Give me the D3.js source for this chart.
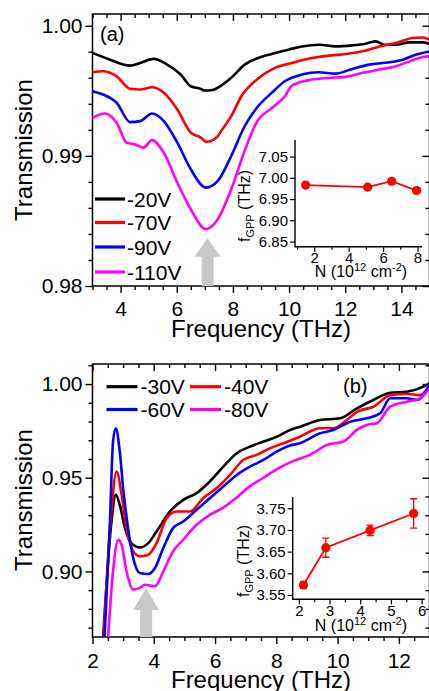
<!DOCTYPE html>
<html><head><meta charset="utf-8">
<script src="https://cdn.jsdelivr.net/npm/d3@7"></script>
<style>
body{margin:0;background:#fff}
text{font-family:"Liberation Sans",Arial,sans-serif;fill:#000}
</style></head>
<body><svg id="c" width="429" height="691"></svg>
<script>
// ---------------- DATA ----------------
// Panel (a)
const seriesA = ["-20V","-70V","-90V","-110V"];
const colorsA = ["#000000","#ff0000","#0000ff","#ff00ff"];
const a20x = [3.00,3.62,4.34,4.70,5.18,5.66,6.14,6.50,6.86,6.98,7.22,7.58,7.94,8.42,8.90,9.38,9.98,10.46,11.06,11.65,12.25,12.73,13.09,13.40,13.81,14.29,14.77,15.00];
const a20y = [0.99791,0.99739,0.99693,0.99714,0.99745,0.99701,0.99625,0.99535,0.99515,0.99502,0.99504,0.99540,0.99600,0.99701,0.99752,0.99783,0.99816,0.99841,0.99854,0.99841,0.99849,0.99862,0.99880,0.99854,0.99854,0.99872,0.99872,0.99860];
const a70x = [3.00,3.38,3.86,4.34,4.70,5.12,5.54,6.02,6.50,6.86,7.06,7.46,7.58,7.94,8.30,8.90,9.50,10.10,10.82,11.42,12.02,12.62,13.22,13.81,14.41,14.77,15.00];
const a70y = [0.99642,0.99650,0.99611,0.99515,0.99510,0.99527,0.99484,0.99356,0.99178,0.99140,0.99108,0.99152,0.99190,0.99305,0.99458,0.99595,0.99676,0.99714,0.99752,0.99770,0.99783,0.99803,0.99841,0.99867,0.99906,0.99910,0.99893];
const a90x = [3.00,3.38,3.86,4.34,4.70,5.12,5.54,6.02,6.50,7.04,7.46,7.94,8.42,8.90,9.38,9.86,10.46,11.06,11.65,12.25,12.85,13.57,14.05,14.53,15.00];
const a90y = [0.99497,0.99471,0.99408,0.99259,0.99267,0.99326,0.99267,0.99101,0.98897,0.98756,0.98807,0.98999,0.99228,0.99382,0.99484,0.99575,0.99625,0.99642,0.99632,0.99668,0.99701,0.99719,0.99739,0.99778,0.99803];
const a110x = [3.00,3.44,3.86,4.22,4.52,4.82,5.12,5.54,6.02,6.50,7.04,7.46,7.94,8.42,8.85,9.40,9.86,10.10,10.82,11.42,12.02,12.62,13.22,13.81,14.29,14.77,15.00];
const a110y = [0.99293,0.99326,0.99254,0.99101,0.99088,0.99063,0.99121,0.99024,0.98795,0.98590,0.98437,0.98513,0.98743,0.99040,0.99260,0.99370,0.99460,0.99540,0.99586,0.99599,0.99607,0.99638,0.99663,0.99688,0.99726,0.99760,0.99765];

// Panel (b)
const seriesB = ["-30V","-40V","-60V","-80V"];
const colorsB = ["#000000","#ff0000","#0000ff","#ff00ff"];
const b30x = [2.33,2.62,2.76,2.89,3.06,3.27,3.55,3.82,4.09,4.53,4.96,5.40,5.83,6.27,6.71,7.14,7.58,8.01,8.45,8.77,9.43,10.08,10.63,11.17,11.72,12.26,12.80,13.00];
const b30y = [0.860,0.9266,0.9409,0.9355,0.9231,0.9151,0.9128,0.9151,0.9213,0.9320,0.9382,0.9418,0.9480,0.9559,0.9631,0.9666,0.9693,0.9719,0.9755,0.9772,0.9808,0.9817,0.9870,0.9915,0.9954,0.9959,0.9986,1.0004];
const b40x = [2.35,2.59,2.79,2.95,3.11,3.33,3.55,3.82,4.09,4.42,4.75,5.18,5.61,6.05,6.49,6.92,7.36,7.79,8.23,8.77,9.43,9.86,10.30,10.63,11.17,11.72,12.26,12.70,13.00];
const b40y = [0.860,0.9266,0.9533,0.9409,0.9231,0.9107,0.9080,0.9089,0.9151,0.9284,0.9320,0.9320,0.9391,0.9444,0.9515,0.9595,0.9622,0.9657,0.9684,0.9719,0.9764,0.9764,0.9808,0.9852,0.9879,0.9941,0.9947,0.9941,0.9995];
const b60x = [2.38,2.57,2.67,2.76,2.89,3.00,3.16,3.33,3.55,3.82,4.04,4.31,4.63,4.96,5.40,5.83,6.27,6.71,7.14,7.58,8.01,8.45,8.77,9.43,9.86,10.41,10.95,11.39,11.72,12.26,12.59,13.00];
const b60y = [0.860,0.9266,0.9693,0.9764,0.9639,0.9444,0.9231,0.9071,0.8991,0.8986,0.9018,0.9125,0.9231,0.9266,0.9329,0.9391,0.9453,0.9515,0.9559,0.9595,0.9639,0.9672,0.9684,0.9737,0.9755,0.9799,0.9817,0.9844,0.9924,0.9924,0.9915,0.9995];
const b80x = [2.49,2.67,2.84,2.95,3.11,3.33,3.55,3.71,4.04,4.31,4.63,4.96,5.40,5.83,6.27,6.71,7.14,7.58,8.01,8.56,9.10,9.65,10.19,10.63,10.95,11.28,11.72,12.26,12.70,13.00];
const b80y = [0.860,0.9000,0.9169,0.9142,0.9000,0.8903,0.8912,0.8929,0.8920,0.9000,0.9107,0.9169,0.9249,0.9302,0.9340,0.9395,0.9455,0.9500,0.9545,0.9590,0.9622,0.9675,0.9693,0.9755,0.9782,0.9791,0.9879,0.9906,0.9924,0.9977];

// Insets
const insetAN = [1.5,5.1,6.5,7.95];
const insetAf = [6.983,6.978,6.992,6.970];
const insetBN = [2.15,2.88,4.32,5.74];
const insetBf = [3.573,3.659,3.699,3.738];
const insetBerr = [0.008,0.022,0.012,0.034];

// Tick values
const xTicksA = [4,6,8,10,12,14];
const yTicksA = [0.98,0.99,1.00];
const xTicksB = [2,4,6,8,10,12];
const yTicksB = [0.90,0.95,1.00];
const insetAxTicks = [2,4,6,8];
const insetAyTicks = [6.85,6.90,6.95,7.00,7.05];
const insetBxTicks = [2,3,4,5,6];
const insetByTicks = [3.55,3.60,3.65,3.70,3.75];

// Arrows (x position, tip value, head-base value)
const arrowA = {x:7.1, tip:0.98367, base:0.98225};
const arrowB = {x:3.75, tip:0.8910, base:0.8794};

// ---------------- DRAW ----------------
const svg = d3.select("#c");
const zip = (xs,ys)=>xs.map((x,i)=>[x,ys[i]]);
const range = (a,b,s)=>d3.range(Math.round((b-a)/s)+1).map(i=>+(a+i*s).toFixed(6));

function panel(opts){
  const {x,y,xMaj,xMin,yMaj,yMin,fmtY,labPadX,id} = opts;
  const [x0,x1] = x.range(), [y0,y1] = y.range(); // y0 bottom
  const g = svg.append("g");
  // clip
  svg.append("clipPath").attr("id",id).append("rect")
    .attr("x",x0).attr("y",y1).attr("width",x1-x0).attr("height",y0-y1);
  const ax = (axis, tr, size, vals, fmt, pad) => {
    const a = g.append("g").attr("transform",tr)
      .call(axis.tickValues(vals).tickSize(size).tickSizeOuter(0).tickPadding(pad||3).tickFormat(fmt||""));
    a.select(".domain").remove();
    a.selectAll("line").attr("stroke","#000").attr("stroke-width",1.4);
    a.selectAll("text").style("font-size","21px").attr("fill","#000");
    return a;
  };
  // bottom
  ax(d3.axisBottom(x),`translate(0,${y0})`,7,xMaj,d3.format("d"),labPadX);
  ax(d3.axisBottom(x),`translate(0,${y0})`,4,xMin);
  // top (inward)
  ax(d3.axisBottom(x),`translate(0,${y1})`,7,xMaj);
  ax(d3.axisBottom(x),`translate(0,${y1})`,4,xMin);
  // left (outward)
  ax(d3.axisLeft(y),`translate(${x0},0)`,7,yMaj,fmtY,3);
  ax(d3.axisLeft(y),`translate(${x0},0)`,4,yMin);
  // right (inward)
  ax(d3.axisLeft(y),`translate(${x1},0)`,7,yMaj);
  ax(d3.axisLeft(y),`translate(${x1},0)`,4,yMin);
  g.append("rect").attr("x",x0).attr("y",y1).attr("width",x1-x0).attr("height",y0-y1)
    .attr("fill","none").attr("stroke","#000").attr("stroke-width",1.5);
  return g;
}

function arrow(x,y,a){
  const cx = x(a.x), tip = y(a.tip), base = y(a.base), bot = y.range()[0];
  const hw = 13, sw = 6;
  const p = d3.path();
  p.moveTo(cx,tip); p.lineTo(cx+hw,base); p.lineTo(cx+sw,base); p.lineTo(cx+sw,bot);
  p.lineTo(cx-sw,bot); p.lineTo(cx-sw,base); p.lineTo(cx-hw,base); p.closePath();
  svg.append("path").attr("d",p.toString()).attr("fill","#c8c8c8");
}

function curves(x,y,list,colors,clip){
  const line = d3.line().x(d=>x(d[0])).y(d=>y(d[1])).curve(d3.curveMonotoneX);
  const g = svg.append("g").attr("clip-path",`url(#${clip})`);
  list.forEach((d,i)=>g.append("path").attr("d",line(d)).attr("fill","none")
    .attr("stroke",colors[i]).attr("stroke-width",2.6).attr("stroke-linejoin","round"));
}

// ---- Panel (a)
const xA = d3.scaleLinear().domain([3,15]).range([92.5,429.5]);
const yA = d3.scaleLinear().domain([0.98,1.0009]).range([286,14]);
panel({x:xA,y:yA,xMaj:xTicksA,xMin:range(3,15,0.5).filter(v=>!xTicksA.includes(v)),
  yMaj:yTicksA,yMin:range(0.98,1.0,0.002).filter(v=>!yTicksA.some(t=>Math.abs(t-v)<1e-9)),
  fmtY:d3.format(".2f"),labPadX:8,id:"clipA"});
arrow(xA,yA,arrowA);
curves(xA,yA,[zip(a20x,a20y),zip(a70x,a70y),zip(a90x,a90y),zip(a110x,a110y)],colorsA,"clipA");

// ---- Panel (b)
const xB = d3.scaleLinear().domain([2,13]).range([92.5,429.5]);
const yB = d3.scaleLinear().domain([0.865,1.0107]).range([637,364]);
panel({x:xB,y:yB,xMaj:xTicksB,xMin:range(2,13,0.5).filter(v=>!xTicksB.includes(v)),
  yMaj:yTicksB,yMin:range(0.87,1.01,0.01).filter(v=>!yTicksB.some(t=>Math.abs(t-v)<1e-9)),
  fmtY:d3.format(".2f"),labPadX:9,id:"clipB"});
arrow(xB,yB,arrowB);
curves(xB,yB,[zip(b30x,b30y),zip(b40x,b40y),zip(b60x,b60y),zip(b80x,b80y)],colorsB,"clipB");

// ---- Axis titles
[[150,337],[500,688]].forEach(([cy,by])=>{
  svg.append("text").attr("transform",`translate(32,${cy}) rotate(-90)`)
    .attr("text-anchor","middle").style("font-size","24px").text("Transmission");
  svg.append("text").attr("x",261).attr("y",by).attr("text-anchor","middle")
    .style("font-size","24px").text("Frequency (THz)");
});
svg.append("text").attr("x",100).attr("y",41).style("font-size","20px").text("(a)");
svg.append("text").attr("x",343).attr("y",393).style("font-size","20px").text("(b)");

// ---- Legends
const legA = [199,222.5,247,272];
seriesA.forEach((s,i)=>{
  svg.append("line").attr("x1",95).attr("x2",125).attr("y1",legA[i]).attr("y2",legA[i])
    .attr("stroke",colorsA[i]).attr("stroke-width",3.2);
  svg.append("text").attr("x",127).attr("y",legA[i]).attr("dy","0.36em").style("font-size","21px").text(s);
});
const legB = [[106.5,386.7],[190,386.7],[106.5,409.5],[190,409.5]];
seriesB.forEach((s,i)=>{
  const [lx,ly] = legB[i];
  svg.append("line").attr("x1",lx).attr("x2",lx+31).attr("y1",ly).attr("y2",ly)
    .attr("stroke",colorsB[i]).attr("stroke-width",3.2);
  svg.append("text").attr("x",lx+34).attr("y",ly).attr("dy","0.36em").style("font-size","21px").text(s);
});

// ---- Insets
function inset(o){
  const {x,y,xt,xm,yt,N,f,err,titleY,titleX,fmtY,fmtX} = o;
  const [x0,x1]=x.range(), [y0,y1]=y.range();
  const g = svg.append("g");
  const st = sel=>{sel.select(".domain").remove();
    sel.selectAll("line").attr("stroke","#000").attr("stroke-width",1.2);
    sel.selectAll("text").style("font-size","15px").attr("fill","#000");};
  g.append("g").attr("transform",`translate(${x0},0)`)
    .call(d3.axisLeft(y).tickValues(yt).tickSize(5).tickPadding(2).tickFormat(fmtY)).call(st);
  g.append("g").attr("transform",`translate(0,${y0})`)
    .call(d3.axisBottom(x).tickValues(xt).tickSize(5).tickPadding(1).tickFormat(fmtX)).call(st);
  g.append("g").attr("transform",`translate(0,${y0})`)
    .call(d3.axisBottom(x).tickValues(xm).tickSize(3).tickFormat("")).call(st);
  g.append("path").attr("d",`M${x0},${y1}V${y0}H${x1}`).attr("fill","none").attr("stroke","#000").attr("stroke-width",1.4);
  const pts = zip(N,f);
  g.append("path").attr("d",d3.line().x(d=>x(d[0])).y(d=>y(d[1]))(pts))
    .attr("fill","none").attr("stroke","#ff0000").attr("stroke-width",1.8);
  if(err){
    pts.forEach((d,i)=>{
      const cx=x(d[0]), t=y(d[1]+err[i]), b=y(d[1]-err[i]);
      g.append("path").attr("d",`M${cx},${t}V${b}M${cx-3.5},${t}H${cx+3.5}M${cx-3.5},${b}H${cx+3.5}`)
        .attr("stroke","#ff0000").attr("stroke-width",1.3).attr("fill","none");
    });
  }
  g.selectAll("circle.p").data(pts).join("circle").attr("cx",d=>x(d[0])).attr("cy",d=>y(d[1]))
    .attr("r",4.6).attr("fill","#ff0000");
  // y title
  const ty = g.append("text").attr("transform",`translate(${titleY[0]},${titleY[1]}) rotate(-90)`)
    .attr("text-anchor","middle").style("font-size","16px");
  ty.append("tspan").text("f");
  ty.append("tspan").attr("dy","4").style("font-size","11px").text("GPP");
  ty.append("tspan").attr("dy","-4").text(" (THz)");
  const tx = g.append("text").attr("x",titleX[0]).attr("y",titleX[1]).attr("text-anchor","middle").style("font-size","16px");
  tx.append("tspan").text("N (10");
  tx.append("tspan").attr("dy","-6").style("font-size","11px").text("12");
  tx.append("tspan").attr("dy","6").text(" cm");
  tx.append("tspan").attr("dy","-6").style("font-size","11px").text("-2");
  tx.append("tspan").attr("dy","6").text(")");
}
inset({x:d3.scaleLinear().domain([0.88,8.26]).range([295,422]),
  y:d3.scaleLinear().domain([6.838,7.089]).range([246.7,140]),
  xt:insetAxTicks, xm:[1,3,5,7], yt:insetAyTicks, N:insetAN, f:insetAf,
  titleY:[250,206], titleX:[361,277], fmtY:d3.format(".2f"), fmtX:d3.format("d")});
inset({x:d3.scaleLinear().domain([1.8,6.1]).range([292.7,424.7]),
  y:d3.scaleLinear().domain([3.54,3.776]).range([599.3,497]),
  xt:insetBxTicks, xm:[2.5,3.5,4.5,5.5], yt:insetByTicks, N:insetBN, f:insetBf, err:insetBerr,
  titleY:[249,561], titleX:[361,631], fmtY:d3.format(".2f"), fmtX:d3.format("d")});
</script></body></html>
